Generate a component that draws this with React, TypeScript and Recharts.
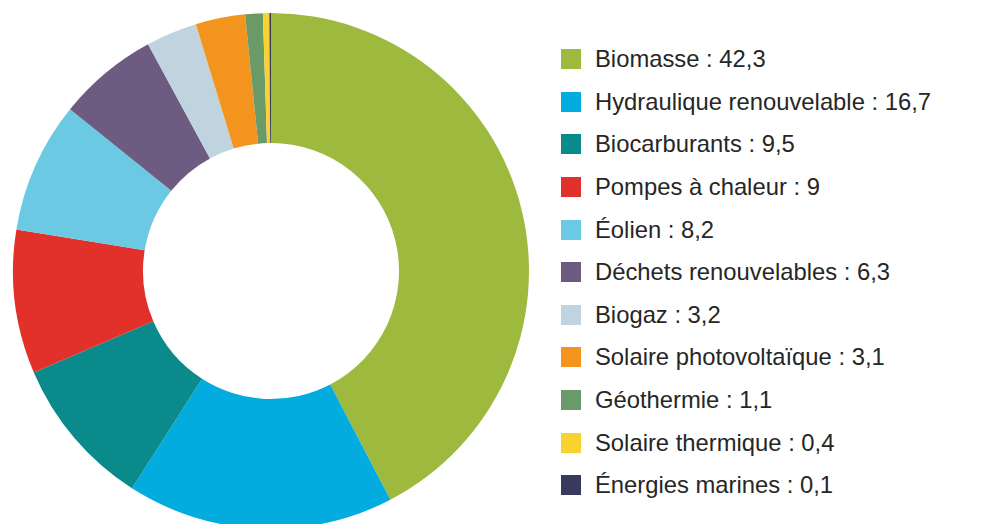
import React from 'react';
import { PieChart, Pie, Cell, Legend } from 'recharts';

const categories = [
  'Biomasse',
  'Hydraulique renouvelable',
  'Biocarburants',
  'Pompes à chaleur',
  'Éolien',
  'Déchets renouvelables',
  'Biogaz',
  'Solaire photovoltaïque',
  'Géothermie',
  'Solaire thermique',
  'Énergies marines',
];

const values = [42.3, 16.7, 9.5, 9, 8.2, 6.3, 3.2, 3.1, 1.1, 0.4, 0.1];

const colors = [
  '#9dba3e',
  '#02acdf',
  '#0a8a8a',
  '#e2312b',
  '#6bc9e4',
  '#6e5b82',
  '#c0d4e0',
  '#f3941f',
  '#6a9a68',
  '#f9d230',
  '#383a5c',
];

const data = categories.map((name, i) => ({ name, value: values[i], color: colors[i] }));

const formatValue = (v: number) => String(v).replace('.', ',');

const LegendList = () => (
  <div>
    {data.map((d) => (
      <div
        key={d.name}
        style={{ display: 'flex', alignItems: 'center', height: 42.6 }}
      >
        <span
          style={{ width: 20, height: 20, background: d.color, display: 'inline-block', marginRight: 14, flexShrink: 0 }}
        />
        <span
          style={{
            fontSize: 23.8,
            color: '#262626',
            fontFamily: '"Liberation Sans", Arial, sans-serif',
            whiteSpace: 'nowrap',
          }}
        >
          {d.name} : {formatValue(d.value)}
        </span>
      </div>
    ))}
  </div>
);

export default function App() {
  return (
    <div style={{ position: 'absolute', left: 0, top: 0, width: 986, height: 524, background: '#fff' }}>
      <PieChart width={986} height={524} margin={{ top: 0, right: 0, bottom: 0, left: 0 }}>
        <Pie
          data={data}
          dataKey="value"
          nameKey="name"
          cx={271}
          cy={271}
          innerRadius={128}
          outerRadius={258}
          startAngle={90}
          endAngle={-270}
          stroke="none"
          isAnimationActive={false}
        >
          {data.map((d) => (
            <Cell key={d.name} fill={d.color} />
          ))}
        </Pie>
        <Legend
          content={<LegendList />}
          wrapperStyle={{ left: 561, top: 38, width: 420, bottom: 'auto', right: 'auto' }}
        />
      </PieChart>
    </div>
  );
}
